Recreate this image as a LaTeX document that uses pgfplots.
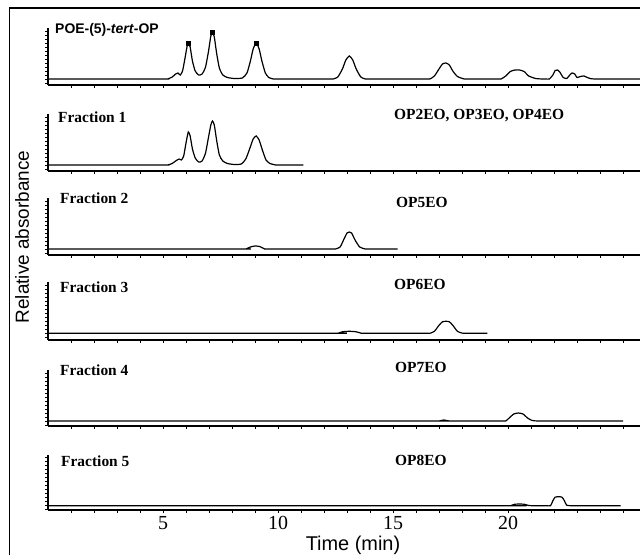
\documentclass[border=0pt]{standalone}
\usepackage{fontspec}
\setmainfont{Liberation Serif}
\newfontfamily\arial{Liberation Sans}
\usepackage{pgfplots}
\pgfplotsset{compat=1.18}
\pgfplotsset{
 panel/.style={anchor=south west, x=23bp, y=1bp, xmin=0, xmax=26, ymin=-6, ymax=51,
  axis x line=bottom, axis y line=left, axis line style={-, line width=1.1bp},
  xtick={5,10,15,20}, minor xtick={1,2,...,25}, xticklabels={},
  ytick={-4,0,...,48}, yticklabels={},
  tick align=outside, major tick length=3bp, minor tick length=3bp,
  every tick/.style={black, line width=0.7bp},
  clip=false,
  /pgf/number format/assume math mode=true,
  tick label style={font=\fontsize{20}{22}\selectfont},
 },
 trace/.style={black, line width=1.2bp, smooth, tension=0.35, no markers},
}
\begin{document}
\begin{tikzpicture}
\useasboundingbox (0,0) rectangle (640bp,555bp);
\draw[line width=1.3bp] (9.5bp,-5bp) -- (9.5bp,547bp) -- (650bp,547bp);

% Panel 1: POE-(5)-tert-OP
\begin{axis}[panel, at={(48bp,470bp)}, ymin=-6]
\addplot[trace] coordinates {(0,0) (5.0,0) (5.2,0) (5.4,2) (5.55,5) (5.65,6) (5.75,4) (5.85,8) (5.95,20) (6.05,33) (6.1,36) (6.18,32) (6.28,18) (6.4,8) (6.55,4) (6.7,5) (6.85,12) (6.98,28) (7.08,43) (7.15,47) (7.23,42) (7.33,26) (7.45,11) (7.6,4) (7.8,1.5) (8.1,0.5) (8.45,1) (8.65,6) (8.8,18) (8.92,30) (9.05,36) (9.18,30) (9.3,18) (9.45,6) (9.6,1.5) (9.8,0) (10.0,0) (12.2,0) (12.4,0) (12.6,2) (12.8,10) (12.95,19) (13.1,23) (13.25,19) (13.4,10) (13.6,2) (13.8,0) (14.0,0) (16.4,0) (16.6,0) (16.8,3) (17.0,10) (17.15,15) (17.3,16) (17.45,14) (17.6,8) (17.8,2.5) (18.1,0) (18.3,0) (19.5,0) (19.7,0) (19.9,3) (20.1,7.5) (20.3,9) (20.5,9) (20.7,7.5) (20.9,3) (21.2,0.5) (21.5,0) (21.65,0) (21.8,0) (21.95,4) (22.05,8.5) (22.15,9) (22.25,7) (22.4,1.5) (22.55,0.5) (22.65,3) (22.78,6) (22.9,5) (23.0,1.5) (23.15,2.5) (23.3,3) (23.45,1.5) (23.6,0.3) (23.8,0) (24.0,0) (26,0)};
\addplot[only marks, mark=square*, mark size=2bp] coordinates {(6.1,36) (7.15,47) (9.05,36)};
\end{axis}

% Panel 2: Fraction 1
\begin{axis}[panel, at={(48bp,384bp)}, ymin=-6]
\addplot[trace] coordinates {(0,0) (5.0,0) (5.2,0) (5.4,1.5) (5.55,4) (5.7,6) (5.8,5) (5.9,9) (6.0,22) (6.1,33) (6.18,29) (6.28,16) (6.4,7) (6.55,3) (6.7,4) (6.85,12) (6.98,28) (7.08,40) (7.15,44) (7.23,40) (7.33,25) (7.45,10) (7.6,4) (7.8,1.5) (8.1,0.5) (8.4,1) (8.6,6) (8.78,17) (8.92,26) (9.05,29) (9.18,25) (9.32,15) (9.48,5) (9.65,1.5) (9.9,0) (10.1,0) (11.1,0)};
\end{axis}

% Panel 3: Fraction 2
\begin{axis}[panel, at={(48bp,300bp)}, ymin=-6]
\addplot[trace] coordinates {(0,0) (8.4,0) (8.6,0) (8.8,2) (9.0,3) (9.2,2.5) (9.4,0.3) (9.6,0) (12.3,0) (12.5,0) (12.7,2) (12.85,9) (13.0,16) (13.1,17) (13.2,16) (13.35,9) (13.55,2) (13.8,0) (14.0,0) (15.2,0)};
\end{axis}

% Panel 4: Fraction 3
\begin{axis}[panel, at={(48bp,215bp)}, ymin=-6.7]
\addplot[trace] coordinates {(0,0) (12.4,0) (12.6,0) (12.8,1.5) (13.1,2) (13.4,1.5) (13.6,0.2) (13.8,0) (16.4,0) (16.6,0) (16.8,2) (17.0,8) (17.15,11.5) (17.3,12) (17.45,11.5) (17.6,8) (17.8,2) (18.0,0.2) (18.2,0) (19.1,0)};
\end{axis}

% Panel 5: Fraction 4
\begin{axis}[panel, at={(48bp,129bp)}, ymin=-5]
\addplot[trace] coordinates {(0,0) (16.8,0) (17.0,0) (17.2,1) (17.4,0.2) (17.6,0) (19.7,0) (19.9,0) (20.05,3) (20.25,7) (20.45,8) (20.65,7) (20.85,3) (21.05,0.5) (21.3,0) (21.5,0) (25.0,0)};
\end{axis}

% Panel 6: Fraction 5
\begin{axis}[panel, at={(48bp,45bp)}, ymin=-4.3, xticklabels={5,10,15,20}]
\addplot[trace] coordinates {(0,0) (19.9,0) (20.1,0) (20.3,1.5) (20.5,1.6) (20.7,1.5) (20.9,0.2) (21.1,0) (21.65,0) (21.85,0) (21.95,5) (22.05,8.5) (22.2,9) (22.35,8.5) (22.45,5) (22.55,0.5) (22.75,0) (23.0,0) (24.9,0)};
\end{axis}

% Labels
\node[anchor=base west, inner sep=0pt, font=\arial\bfseries\fontsize{14}{16}\selectfont] at (55bp,521bp) {POE-(5)-\textit{tert}-OP};
\begin{scope}[every node/.style={anchor=base west, inner sep=0pt, font=\bfseries\fontsize{15.5}{17}\selectfont}]
\node at (58bp,432bp) {Fraction 1};
\node at (60bp,351bp) {Fraction 2};
\node at (60bp,262bp) {Fraction 3};
\node at (60bp,179bp) {Fraction 4};
\node at (61bp,88bp) {Fraction 5};
\node at (394bp,435.5bp) {OP2EO, OP3EO, OP4EO};
\node at (396bp,347.5bp) {OP5EO};
\node at (394bp,265.5bp) {OP6EO};
\node at (395bp,182bp) {OP7EO};
\node at (395bp,89bp) {OP8EO};
\end{scope}
\node[font=\arial\fontsize{20}{22}\selectfont] at (353bp,10bp) {Time (min)};
\node[rotate=90, font=\arial\fontsize{19}{21}\selectfont] at (22bp,318bp) {Relative absorbance};
\end{tikzpicture}
\end{document}
